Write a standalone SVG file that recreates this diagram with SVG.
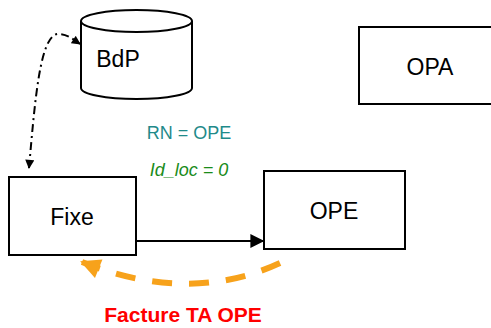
<svg xmlns="http://www.w3.org/2000/svg" width="491" height="328" viewBox="0 0 491 328">
<style>
.box{fill:#fff;stroke:#000;stroke-width:2}
.lbl{font-family:"Liberation Sans",Arial,sans-serif;font-size:23px;fill:#000;text-anchor:middle}
</style>
<defs>
<marker id="ah" viewBox="0 0 10 10" refX="9" refY="5" markerWidth="10" markerHeight="9" markerUnits="userSpaceOnUse" orient="auto-start-reverse">
<path d="M0,0 L10,5 L0,10 z" fill="#000"/>
</marker>
<marker id="ahBig" viewBox="0 0 10 10" refX="9" refY="5" markerWidth="15" markerHeight="14" markerUnits="userSpaceOnUse" orient="auto">
<path d="M0,0 L10,5 L0,10 z" fill="#000"/>
</marker>
<marker id="ahOr" viewBox="0 0 10 10" refX="9" refY="5" markerWidth="22" markerHeight="20" markerUnits="userSpaceOnUse" orient="auto">
<path d="M0,0 L10,5 L0,10 z" fill="#F7A21B"/>
</marker>
</defs>
<g id="BdP">
<path d="M81,21 L81,88 A55.5,11 0 0 0 192,88 L192,21" class="box"/>
<ellipse cx="136.5" cy="21" rx="55.5" ry="11" class="box"/>
<text x="118" y="67" class="lbl">BdP</text>
</g>
<g id="OPA">
<rect x="359" y="27" width="150" height="77" class="box"/>
<text x="430" y="75" class="lbl">OPA</text>
</g>
<g id="Fixe">
<rect x="9" y="177" width="127" height="78" class="box"/>
<text x="72" y="225" class="lbl">Fixe</text>
</g>
<g id="OPE">
<rect x="264" y="171" width="141" height="78" class="box"/>
<text x="334" y="219" class="lbl">OPE</text>
</g>
<g id="connectors">
<path d="M29,168 C35,100 40,35 58,34 C68,34 74,40 80,44" fill="none" stroke="#000" stroke-width="2" stroke-dasharray="8,4,2,4" marker-start="url(#ah)" marker-end="url(#ah)"/>
<line x1="136" y1="241" x2="263" y2="241" stroke="#000" stroke-width="2" marker-end="url(#ahBig)"/>
<path d="M280,263 Q189,305 82,262" fill="none" stroke="#F7A21B" stroke-width="6" stroke-dasharray="20,17" marker-end="url(#ahOr)"/>
</g>
<text x="189" y="139" font-family="Liberation Sans,Arial,sans-serif" font-size="18" fill="#1F8A8A" text-anchor="middle">RN = OPE</text>
<text x="189" y="176" font-family="Liberation Sans,Arial,sans-serif" font-size="18" font-style="italic" fill="#1A8C1A" text-anchor="middle">Id_loc = 0</text>
<text x="183" y="322" font-family="Liberation Sans,Arial,sans-serif" font-size="21" font-weight="bold" fill="#FF0000" text-anchor="middle">Facture TA OPE</text>
</svg>
